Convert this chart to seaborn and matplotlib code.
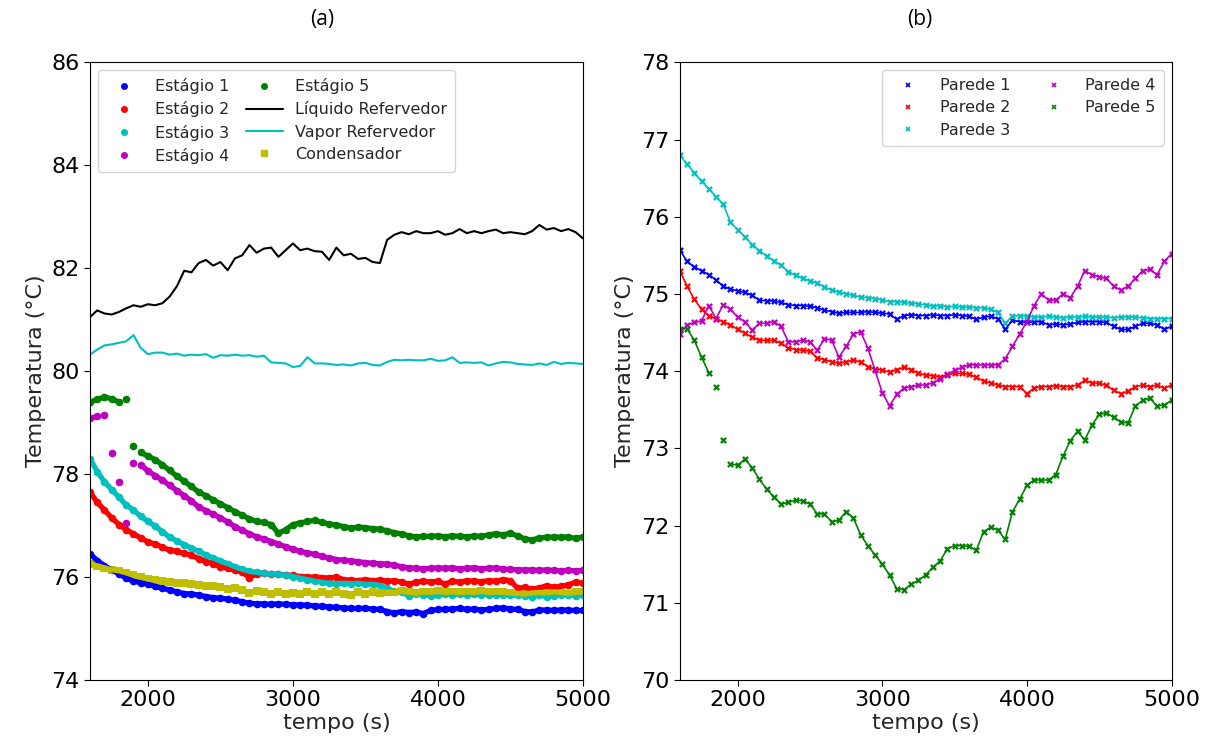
import matplotlib
matplotlib.use("Agg")
import matplotlib.pyplot as plt
import seaborn as sns
import numpy as np
from matplotlib.lines import Line2D

# --- time axis (s), one reading every 50 s ---
tempo = list(range(1600, 5001, 50))

# --- (a) column temperatures (°C) ---
estagio_1 = [76.45, 76.32, 76.22, 76.14, 76.06, 75.98, 75.92, 75.89, 75.86, 75.82, 75.78, 75.75, 75.71, 75.68,
             75.67, 75.65, 75.62, 75.60, 75.59, 75.57, 75.55, 75.52, 75.49, 75.48, 75.48, 75.47, 75.48, 75.47,
             75.46, 75.46, 75.45, 75.44, 75.43, 75.42, 75.41, 75.40, 75.39, 75.39, 75.39, 75.38, 75.37, 75.33,
             75.30, 75.33, 75.31, 75.32, 75.29, 75.35, 75.37, 75.37, 75.38, 75.39, 75.37, 75.38, 75.36, 75.37,
             75.39, 75.40, 75.38, 75.37, 75.33, 75.32, 75.36, 75.36, 75.35, 75.36, 75.36, 75.35, 75.35]
estagio_2 = [77.65, 77.45, 77.30, 77.15, 77.02, 76.92, 76.84, 76.76, 76.68, 76.64, 76.58, 76.52, 76.50, 76.46,
             76.42, 76.36, 76.30, 76.26, 76.20, 76.17, 76.13, 76.10, 75.99, 76.06, 76.07, 76.06, 76.05, 76.04,
             76.03, 76.01, 76.00, 76.00, 75.99, 75.98, 76.00, 75.95, 75.94, 75.93, 75.95, 75.93, 75.94, 75.92,
             75.93, 75.90, 75.86, 75.90, 75.92, 75.90, 75.92, 75.86, 75.92, 75.90, 75.93, 75.92, 75.91, 75.93,
             75.92, 75.95, 75.93, 75.78, 75.80, 75.76, 75.79, 75.83, 75.80, 75.82, 75.85, 75.90, 75.88]
estagio_3 = [78.30, 78.05, 77.85, 77.70, 77.55, 77.40, 77.30, 77.18, 77.08, 76.99, 76.88, 76.77, 76.70, 76.63,
             76.56, 76.50, 76.43, 76.37, 76.31, 76.26, 76.20, 76.15, 76.11, 76.09, 76.07, 76.06, 76.05, 76.04,
             76.01, 75.98, 75.95, 75.92, 75.90, 75.88, 75.87, 75.88, 75.87, 75.88, 75.86, 75.86, 75.84, 75.78,
             75.72, 75.70, 75.64, 75.68, 75.66, 75.64, 75.66, 75.67, 75.66, 75.67, 75.66, 75.67, 75.66, 75.66,
             75.66, 75.66, 75.65, 75.65, 75.64, 75.62, 75.65, 75.62, 75.64, 75.66, 75.65, 75.64, 75.66]
estagio_4 = [79.08, 79.12, 79.15, 78.40, 77.85, 77.05, 78.22, 78.18, 78.06, 77.97, 77.88, 77.78, 77.68, 77.58,
             77.48, 77.36, 77.29, 77.22, 77.15, 77.07, 76.98, 76.91, 76.84, 76.78, 76.74, 76.69, 76.64, 76.59,
             76.54, 76.50, 76.47, 76.44, 76.40, 76.37, 76.34, 76.33, 76.31, 76.30, 76.28, 76.27, 76.26, 76.25,
             76.23, 76.20, 76.18, 76.17, 76.16, 76.17, 76.18, 76.17, 76.18, 76.16, 76.17, 76.18, 76.16, 76.17,
             76.18, 76.15, 76.15, 76.14, 76.14, 76.14, 76.13, 76.14, 76.13, 76.12, 76.13, 76.12, 76.13]
estagio_5 = [79.40, 79.45, 79.50, 79.46, 79.40, 79.45, 78.55, 78.42, 78.35, 78.28, 78.18, 78.07, 77.96, 77.86,
             77.76, 77.65, 77.58, 77.50, 77.42, 77.35, 77.27, 77.20, 77.13, 77.08, 77.06, 77.02, 76.85, 76.92,
             77.02, 77.05, 77.08, 77.10, 77.06, 77.03, 77.01, 76.98, 76.95, 76.97, 76.96, 76.94, 76.93, 76.90,
             76.86, 76.84, 76.80, 76.78, 76.79, 76.79, 76.80, 76.78, 76.80, 76.79, 76.78, 76.80, 76.79, 76.82,
             76.84, 76.82, 76.85, 76.80, 76.74, 76.72, 76.76, 76.77, 76.78, 76.77, 76.78, 76.75, 76.78]
liquido_ref = [81.05, 81.18, 81.12, 81.10, 81.15, 81.22, 81.28, 81.25, 81.30, 81.28, 81.32, 81.45, 81.65, 81.95,
               81.92, 82.10, 82.16, 82.05, 82.12, 81.96, 82.19, 82.25, 82.45, 82.30, 82.38, 82.40, 82.22, 82.35,
               82.48, 82.35, 82.38, 82.33, 82.32, 82.16, 82.40, 82.25, 82.28, 82.18, 82.20, 82.12, 82.10, 82.55,
               82.65, 82.70, 82.66, 82.72, 82.68, 82.68, 82.72, 82.65, 82.68, 82.76, 82.68, 82.72, 82.68, 82.72,
               82.75, 82.68, 82.70, 82.68, 82.66, 82.72, 82.84, 82.75, 82.78, 82.72, 82.76, 82.70, 82.58]
vapor_ref = [80.32, 80.42, 80.50, 80.52, 80.55, 80.58, 80.70, 80.45, 80.33, 80.36, 80.36, 80.32, 80.34, 80.30,
             80.32, 80.31, 80.33, 80.26, 80.31, 80.30, 80.32, 80.30, 80.31, 80.28, 80.30, 80.17, 80.16, 80.15,
             80.08, 80.10, 80.27, 80.15, 80.15, 80.14, 80.12, 80.13, 80.11, 80.15, 80.16, 80.12, 80.11, 80.18,
             80.22, 80.21, 80.22, 80.21, 80.21, 80.24, 80.20, 80.21, 80.27, 80.16, 80.17, 80.16, 80.17, 80.11,
             80.15, 80.18, 80.17, 80.14, 80.13, 80.12, 80.15, 80.12, 80.18, 80.14, 80.16, 80.15, 80.14]
condensador = [76.25, 76.22, 76.18, 76.14, 76.12, 76.08, 76.04, 76.00, 75.96, 75.94, 75.93, 75.90, 75.89, 75.88,
               75.86, 75.85, 75.83, 75.82, 75.80, 75.77, 75.78, 75.74, 75.69, 75.72, 75.71, 75.68, 75.70, 75.68,
               75.69, 75.67, 75.70, 75.67, 75.70, 75.68, 75.70, 75.68, 75.66, 75.70, 75.68, 75.70, 75.69, 75.71,
               75.70, 75.72, 75.70, 75.69, 75.71, 75.70, 75.72, 75.70, 75.71, 75.70, 75.71, 75.70, 75.72, 75.70,
               75.71, 75.70, 75.69, 75.68, 75.67, 75.69, 75.70, 75.69, 75.71, 75.70, 75.68, 75.70, 75.71]

# --- (b) wall temperatures (°C) ---
parede_1 = [75.57, 75.42, 75.35, 75.30, 75.25, 75.18, 75.10, 75.06, 75.04, 75.02, 74.98, 74.92, 74.91, 74.91,
            74.89, 74.86, 74.85, 74.85, 74.84, 74.82, 74.79, 74.77, 74.75, 74.76, 74.76, 74.76, 74.77, 74.76,
            74.75, 74.74, 74.67, 74.72, 74.73, 74.72, 74.72, 74.73, 74.72, 74.72, 74.73, 74.72, 74.71, 74.67,
            74.70, 74.71, 74.68, 74.54, 74.66, 74.64, 74.63, 74.64, 74.64, 74.60, 74.61, 74.60, 74.61, 74.63,
            74.64, 74.64, 74.64, 74.63, 74.58, 74.54, 74.54, 74.58, 74.62, 74.62, 74.60, 74.54, 74.58]
parede_2 = [75.30, 75.10, 74.93, 74.80, 74.72, 74.68, 74.64, 74.60, 74.54, 74.49, 74.44, 74.40, 74.40, 74.40,
            74.36, 74.30, 74.28, 74.27, 74.26, 74.17, 74.15, 74.12, 74.10, 74.12, 74.14, 74.12, 74.06, 74.03,
            74.01, 73.99, 74.02, 74.05, 74.02, 73.97, 73.95, 73.94, 73.93, 73.95, 73.97, 73.97, 73.96, 73.92,
            73.87, 73.85, 73.82, 73.80, 73.80, 73.80, 73.71, 73.78, 73.80, 73.80, 73.81, 73.80, 73.80, 73.82,
            73.88, 73.85, 73.84, 73.82, 73.75, 73.71, 73.74, 73.80, 73.82, 73.80, 73.82, 73.78, 73.82]
parede_3 = [76.80, 76.68, 76.57, 76.46, 76.36, 76.26, 76.16, 75.93, 75.83, 75.74, 75.64, 75.56, 75.49, 75.43,
            75.37, 75.29, 75.24, 75.20, 75.17, 75.14, 75.09, 75.05, 75.02, 75.00, 74.98, 74.96, 74.95, 74.94,
            74.92, 74.90, 74.90, 74.89, 74.88, 74.87, 74.86, 74.84, 74.85, 74.83, 74.84, 74.83, 74.83, 74.82,
            74.82, 74.80, 74.76, 74.62, 74.71, 74.72, 74.71, 74.70, 74.70, 74.71, 74.70, 74.69, 74.70, 74.70,
            74.71, 74.70, 74.70, 74.70, 74.69, 74.70, 74.70, 74.70, 74.69, 74.68, 74.68, 74.68, 74.68]
parede_4 = [74.48, 74.60, 74.63, 74.65, 74.85, 74.68, 74.86, 74.80, 74.70, 74.64, 74.53, 74.62, 74.62, 74.64,
            74.58, 74.38, 74.38, 74.40, 74.38, 74.27, 74.42, 74.40, 74.18, 74.32, 74.48, 74.51, 74.30, 74.01,
            73.72, 73.55, 73.70, 73.78, 73.80, 73.82, 73.82, 73.85, 73.90, 73.96, 74.01, 74.05, 74.08, 74.08,
            74.08, 74.08, 74.08, 74.16, 74.32, 74.48, 74.64, 74.85, 75.00, 74.92, 74.92, 75.00, 74.95, 75.10,
            75.30, 75.25, 75.22, 75.20, 75.10, 75.05, 75.10, 75.20, 75.30, 75.32, 75.25, 75.42, 75.52]
parede_5 = [74.55, 74.55, 74.40, 74.18, 73.98, 73.80, 73.11, 72.80, 72.78, 72.86, 72.75, 72.60, 72.47, 72.37,
            72.28, 72.30, 72.33, 72.32, 72.28, 72.15, 72.15, 72.05, 72.07, 72.18, 72.10, 71.88, 71.74, 71.62,
            71.50, 71.36, 71.18, 71.17, 71.24, 71.29, 71.36, 71.46, 71.54, 71.70, 71.74, 71.74, 71.73, 71.68,
            71.92, 71.98, 71.94, 71.82, 72.18, 72.34, 72.52, 72.59, 72.59, 72.59, 72.66, 72.90, 73.10, 73.22,
            73.11, 73.30, 73.44, 73.46, 73.40, 73.34, 73.33, 73.55, 73.62, 73.65, 73.55, 73.56, 73.62]


def trilha(vals, salto=0.5):
    # same values, but the joining band is broken where the reading jumps
    v = np.array(vals, dtype=float)
    linha = v.copy()
    pulo = np.abs(np.diff(v)) > salto
    linha[1:][pulo] = np.nan
    linha[:-1][pulo] = np.nan
    return linha


sns.set_style("ticks", {"axes.edgecolor": "black", "xtick.color": "black", "ytick.color": "black"})
plt.rcParams['font.family'] = ['DejaVu Sans']

fig = plt.figure(figsize=(12.14, 7.46), dpi=100)
ax_a = fig.add_axes([0.0741, 0.0885, 0.406, 0.828])
ax_b = fig.add_axes([0.560, 0.0885, 0.405, 0.828])

# =========================================================================
# PANEL (a)
# =========================================================================
pontos_a = [("Estágio 1", estagio_1, "b"), ("Estágio 2", estagio_2, "r"), ("Estágio 3", estagio_3, "c"),
            ("Estágio 4", estagio_4, "m"), ("Estágio 5", estagio_5, "g")]
handles_a = []
for nome, vals, cor in pontos_a:
    ax_a.plot(tempo, trilha(vals), color=cor, linewidth=3.8, solid_capstyle="round")
    sns.scatterplot(x=tempo, y=vals, ax=ax_a, color=cor, marker="o", s=30, linewidth=0, legend=False)
    handles_a.append(Line2D([], [], color=cor, marker="o", linestyle="", markersize=4, label=nome))

sns.lineplot(x=tempo, y=liquido_ref, ax=ax_a, color="k", linewidth=1.5, legend=False)
handles_a.append(Line2D([], [], color="k", linewidth=1.5, label="Líquido Refervedor"))
sns.lineplot(x=tempo, y=vapor_ref, ax=ax_a, color="c", linewidth=1.5, legend=False)
handles_a.append(Line2D([], [], color="c", linewidth=1.5, label="Vapor Refervedor"))
ax_a.plot(tempo, trilha(condensador), color="y", linewidth=3.8)
sns.scatterplot(x=tempo, y=condensador, ax=ax_a, color="y", marker="s", s=28, linewidth=0, legend=False)
handles_a.append(Line2D([], [], color="y", marker="s", linestyle="", markersize=4, label="Condensador"))

ax_a.set_xlim(1600, 5000)
ax_a.set_ylim(74, 86)
ax_a.set_xticks([2000, 3000, 4000, 5000])
ax_a.set_yticks([74, 76, 78, 80, 82, 84, 86])
ax_a.set_xlabel("tempo (s)", fontsize=16, labelpad=2)
ax_a.set_ylabel("Temperatura (°C)", fontsize=16, labelpad=4)
ax_a.tick_params(labelsize=16, length=4)
ax_a.legend(handles=handles_a, ncol=2, loc="upper left", fontsize=11.5, handlelength=2.3,
            columnspacing=1.0, borderpad=0.5, labelspacing=0.45)

# =========================================================================
# PANEL (b)
# =========================================================================
pontos_b = [("Parede 1", parede_1, "b"), ("Parede 2", parede_2, "r"), ("Parede 3", parede_3, "c"),
            ("Parede 4", parede_4, "m"), ("Parede 5", parede_5, "g")]
handles_b = []
for nome, vals, cor in pontos_b:
    ax_b.plot(tempo, trilha(vals), color=cor, linewidth=1.2)
    sns.scatterplot(x=tempo, y=vals, ax=ax_b, color=cor, marker="x", s=14, linewidth=1.6, legend=False)
    handles_b.append(Line2D([], [], color=cor, marker="x", linestyle="", markersize=3,
                            markeredgewidth=1.2, label=nome))

ax_b.set_xlim(1600, 5000)
ax_b.set_ylim(70, 78)
ax_b.set_xticks([2000, 3000, 4000, 5000])
ax_b.set_yticks([70, 71, 72, 73, 74, 75, 76, 77, 78])
ax_b.set_xlabel("tempo (s)", fontsize=16, labelpad=2)
ax_b.set_ylabel("Temperatura (°C)", fontsize=16, labelpad=4)
ax_b.tick_params(labelsize=16, length=4)
ax_b.legend(handles=handles_b, ncol=2, loc="upper right", fontsize=11.5, handlelength=2.3,
            columnspacing=1.6, borderpad=0.5, labelspacing=0.45)

fig.text(322 / 1214, 1 - 20 / 746, "(a)", ha="center", va="center", fontsize=15,
         family=["Open Sans", "DejaVu Sans"], color="black")
fig.text(920 / 1214, 1 - 20 / 746, "(b)", ha="center", va="center", fontsize=15,
         family=["Open Sans", "DejaVu Sans"], color="black")

fig.savefig("out.png", dpi=100)
